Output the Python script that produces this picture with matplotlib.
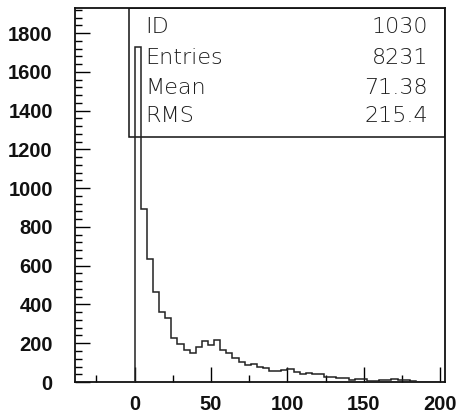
import numpy as np
import matplotlib
matplotlib.use("Agg")
import matplotlib.pyplot as plt
from matplotlib.patches import Rectangle
from matplotlib.ticker import MultipleLocator

# ---- data ----
bin_start = 0
bin_width = 4
counts = [1730, 895, 635, 465, 362, 328, 225, 195, 165, 150,
          180, 212, 190, 215, 165, 148, 122, 104, 86, 92,
          78, 70, 58, 55, 60, 68, 52, 42, 45, 40,
          42, 26, 24, 22, 22, 12, 14, 14, 6, 6,
          8, 10, 15, 12, 8, 5, 0, 0, 0, 0]
x_ticks = [0, 50, 100, 150, 200]
y_ticks = [0, 200, 400, 600, 800, 1000, 1200, 1400, 1600, 1800]
stat_names = ["ID", "Entries", "Mean", "RMS"]
stat_values = ["1030", "8231", "71.38", "215.4"]

edges = bin_start + bin_width * np.arange(len(counts) + 1)

fig = plt.figure(figsize=(4.63, 4.17), dpi=100)
ax = fig.add_axes([0.162, 0.0839, 0.799, 0.897])

ax.stairs(counts, edges, color="#222222", linewidth=1.1, baseline=0, zorder=4)
ax.set_xlim(-39, 203)
ax.set_ylim(0, 1930)

ax.set_xticks(x_ticks)
ax.set_yticks(y_ticks)
ax.xaxis.set_minor_locator(MultipleLocator(25))
ax.yaxis.set_minor_locator(MultipleLocator(40))
ax.tick_params(axis="both", which="major", direction="in", length=11, width=1.0,
               top=False, right=False)
ax.tick_params(axis="both", which="minor", direction="in", length=5, width=1.0,
               top=False, right=False)
ax.tick_params(axis="y", which="major", pad=16)
ax.tick_params(axis="x", which="major", pad=9)
for lab in ax.get_xticklabels() + ax.get_yticklabels():
    lab.set_fontfamily("Liberation Sans")
    lab.set_fontweight("bold")
    lab.set_fontsize(14.5)
    lab.set_color("#111111")

for sp in ax.spines.values():
    sp.set_linewidth(1.3)
    sp.set_color("#111111")

# stats box (unfilled, histogram visible through it)
box_x0 = 0.146
box_y0 = 0.655
ax.add_patch(Rectangle((box_x0, box_y0), 1 - box_x0, 1 - box_y0,
                       transform=ax.transAxes, fill=False,
                       edgecolor="#111111", linewidth=1.1, zorder=3))
row_y = [0.949, 0.866, 0.786, 0.711]
for name, val, yy in zip(stat_names, stat_values, row_y):
    ax.text(0.191, yy, name, transform=ax.transAxes, ha="left", va="center",
            fontsize=16, color="#1e1e1e", family="DejaVu Sans",
            fontweight="light", zorder=6)
    ax.text(0.954, yy, val, transform=ax.transAxes, ha="right", va="center",
            fontsize=16, color="#1e1e1e", family="DejaVu Sans",
            fontweight="light", zorder=6)

fig.savefig("out.png", dpi=100)
